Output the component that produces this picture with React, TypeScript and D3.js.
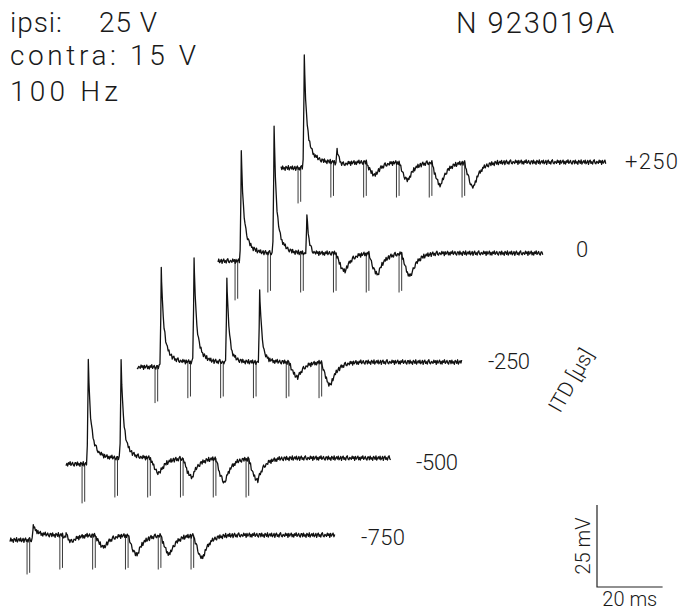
import React from "react";
import * as d3 from "d3";

const W = 683;
const H = 613;

// ---------- data ----------
const itdLabels = ["+250", "0", "-250", "-500", "-750"];
const traceDuration = 99; // ms
const stimInterval = 10; // ms (100 Hz)
const stimCount = 6;
const firstStim = [5.2, 5.2, 5.5, 4.9, 5.2]; // ms from trace start
const spikeLatency = 1.9; // ms
const baselineStep = [1.8, 2.4, 1.5, 1.8, 1.5]; // mV depolarisation after first stimulus
// action-potential amplitude after each stimulus (mV above baseline)
const spikeAmp = [
  [34, 5, 0, 0, 0, 0],
  [33, 38.7, 12.5, 0, 0, 0],
  [30, 31.7, 26.5, 22.9, 0, 0],
  [31.4, 30, 0, 0, 0, 0],
  [4.3, 2.1, 0, 0, 0, 0],
];
// hyperpolarising deflection after each stimulus (mV)
const dipDepth = [
  [0, 1.5, 4, 5.5, 7, 7.6],
  [0, 0, 1.5, 5.5, 6.4, 7],
  [0, 0, 1.6, 1.5, 4.6, 7],
  [0, 0, 4.6, 5.8, 7.3, 6.7],
  [0, 2.4, 3.7, 6, 5.8, 7],
];
const artifactDepth = [10.8, 12, 11, 12, 10.5]; // mV
// recording noise (mV), sampled every 0.25 ms
const noise = [
  0.4, -0.5, 0.6, -0.3, 0.1, -0.7, 0.5, 0.2, -0.4, 0.7, -0.6, 0.0, 0.4, -0.3, 0.6, -0.5, -0.1,
  0.5, -0.7, 0.2, 0.6, -0.4, 0.1, -0.6, 0.4, 0.7, -0.3, -0.5, 0.2, 0.0, -0.4, 0.6, -0.1, 0.4,
  -0.7, 0.5, -0.3, 0.1, 0.6, -0.5, 0.2, -0.6, 0.4, -0.1, 0.7, -0.4, 0.0, 0.5, -0.3, -0.6, 0.4,
];
const scaleBarMs = 20;
const scaleBarMv = 25;

// ---------- layout ----------
const traceOriginX = [281, 218, 137, 66, 10];
const traceOriginY = [168, 261, 367, 464, 540];
const labelX = [625, 576, 488, 416, 361];
const labelY = [169, 257, 369, 470, 545];
const labelW = [53, 12, 42, 42, 44];

const xScale = d3.scaleLinear().domain([0, 20]).range([0, 65.6]);
const yScale = d3.scaleLinear().domain([0, 25]).range([0, -82]);

function baseline(i: number, t: number) {
  const s = firstStim[i] + 1.5;
  if (t < s) return 0;
  return baselineStep[i] * Math.min(1, (t - s) / 1.5);
}

function spike(amp: number, u: number) {
  if (amp === 0) return 0;
  if (u < -0.5) return 0;
  if (u < 0) return amp * Math.pow((u + 0.5) / 0.5, 2);
  return amp * (0.62 * Math.exp(-u / 0.55) + 0.38 * Math.exp(-u / 1.7));
}

function dip(depth: number, u: number) {
  if (depth === 0) return 0;
  const on = 0.8;
  const tf = 2.8;
  if (u < on) return 0;
  if (u < on + tf) return -depth * Math.sin((Math.PI / 2) * ((u - on) / tf));
  return -depth * Math.exp(-(u - on - tf) / 2.0);
}

function voltage(i: number, t: number, withNoise: number | null) {
  let v = baseline(i, t) + (withNoise === null ? 0 : noise[(withNoise + i * 13) % noise.length]);
  for (let s = 0; s < stimCount; s++) {
    const ts = firstStim[i] + s * stimInterval;
    v += spike(spikeAmp[i][s], t - ts - spikeLatency);
    v += dip(dipDepth[i][s], t - ts);
  }
  return v;
}

function traceSamples(i: number) {
  const times = d3.range(0, traceDuration + 0.001, 0.25).map((t, k) => ({ t, k: k as number | null }));
  for (let s = 0; s < stimCount; s++) {
    if (spikeAmp[i][s] > 0) times.push({ t: firstStim[i] + s * stimInterval + spikeLatency, k: null });
  }
  times.sort((a, b) => a.t - b.t);
  return times.map(({ t, k }) => [xScale(t), yScale(voltage(i, t, k))] as [number, number]);
}

const font = "Roboto, 'Liberation Sans', Arial, sans-serif";

export default function App() {
  const line = d3.line<[number, number]>().x((d) => d[0]).y((d) => d[1]);
  const txt = { fontFamily: font, fontWeight: 300, fill: "#1a1a1a" } as const;
  return (
    <svg width={W} height={H} style={{ position: "absolute", left: 0, top: 0, background: "#fff" }}>
      <rect width={W} height={H} fill="#fff" />
      {itdLabels.map((lab, i) => {
        const stims = d3.range(stimCount).map((s) => firstStim[i] + s * stimInterval);
        return (
          <g key={lab} transform={`translate(${traceOriginX[i]},${traceOriginY[i]})`}>
            {stims.map((ts, s) => {
              const b = baseline(i, ts);
              return (
                <g key={s} stroke="#222" strokeWidth={0.9}>
                  <line x1={xScale(ts)} x2={xScale(ts)} y1={yScale(b)} y2={yScale(b - artifactDepth[i])} />
                  <line
                    x1={xScale(ts + 0.8)}
                    x2={xScale(ts + 0.8)}
                    y1={yScale(b)}
                    y2={yScale(b - artifactDepth[i] + 0.5)}
                  />
                </g>
              );
            })}
            <path d={line(traceSamples(i)) || ""} fill="none" stroke="#111" strokeWidth={1.3} strokeLinejoin="round" />
          </g>
        );
      })}
      {itdLabels.map((lab, i) => (
        <text key={lab} x={labelX[i]} y={labelY[i]} fontSize={22} textLength={labelW[i]} lengthAdjust="spacing" {...txt}>
          {lab}
        </text>
      ))}
      <text transform="translate(560,414) rotate(-60)" fontSize={21} {...txt}>
        ITD [µs]
      </text>
      {/* header texts */}
      <text x={10} y={32} fontSize={28} textLength={52} lengthAdjust="spacing" {...txt}>
        ipsi:
      </text>
      <text x={99} y={32} fontSize={28} textLength={58} lengthAdjust="spacing" {...txt}>
        25 V
      </text>
      <text x={10} y={65} fontSize={28} textLength={186} lengthAdjust="spacing" {...txt}>
        contra: 15 V
      </text>
      <text x={10} y={101} fontSize={28} textLength={108} lengthAdjust="spacing" {...txt}>
        100 Hz
      </text>
      <text x={456} y={33} fontSize={29} textLength={158} lengthAdjust="spacing" {...txt}>
        N 923019A
      </text>
      {/* scale bar */}
      <g transform="translate(597,587)">
        <path
          d={`M0,${yScale(scaleBarMv)} V0 H${xScale(scaleBarMs)}`}
          fill="none"
          stroke="#222"
          strokeWidth={1.2}
        />
        <text x={xScale(scaleBarMs) / 2} y={19} textAnchor="middle" fontSize={20} {...txt}>
          {scaleBarMs} ms
        </text>
        <text
          transform={`translate(-7,${yScale(scaleBarMv) / 2}) rotate(-90)`}
          textAnchor="middle"
          fontSize={20}
          {...txt}
        >
          {scaleBarMv} mV
        </text>
      </g>
    </svg>
  );
}
